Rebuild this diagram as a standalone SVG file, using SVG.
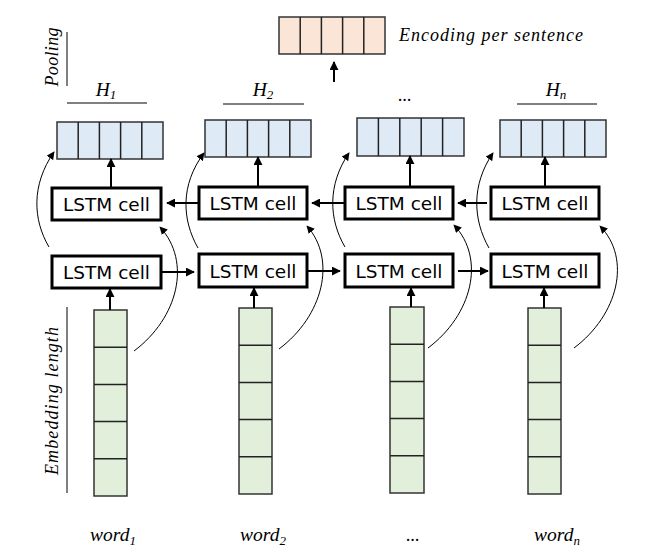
<svg xmlns="http://www.w3.org/2000/svg" width="651" height="559" viewBox="0 0 651 559">
<style>
.lbl{font-family:"Liberation Serif","Times New Roman",serif;font-style:italic;font-size:18px;fill:#000}
.big{font-size:19.5px}
.sub{font-size:13px}
.cell rect{fill:#fff;stroke:#000;stroke-width:3}
.cell text{font-family:"DejaVu Sans","Verdana",sans-serif;font-size:18.5px;fill:#000;text-anchor:middle}
.blue rect{fill:#deeaf6;stroke:#333;stroke-width:1.5}
.blue line,.green line,.orange line{stroke:#222;stroke-width:1.5}
.green rect{fill:#e2efda;stroke:#333;stroke-width:1.5}
.orange rect{fill:#fbe5d6;stroke:#333;stroke-width:1.5}
.arr{stroke:#000;stroke-width:2;fill:none;marker-end:url(#ah)}
.crv{stroke:#000;stroke-width:1;fill:none;marker-end:url(#ah2)}
.rule{stroke:#000;stroke-width:1}
</style>
<defs>
<marker id="ah" viewBox="0 0 10 10" refX="9" refY="5" markerWidth="4.5" markerHeight="4.5" orient="auto" markerUnits="strokeWidth">
<path d="M0,0 L10,5 L0,10 z" fill="#000"/>
</marker>
<marker id="ah2" viewBox="0 0 10 10" refX="9" refY="5" markerWidth="8" markerHeight="8" orient="auto" markerUnits="strokeWidth">
<path d="M0,0 L10,5 L0,10 z" fill="#000"/>
</marker>
</defs>

<!-- side labels -->
<g id="pooling-label">
<text class="lbl" transform="translate(58,57) rotate(-90)" text-anchor="middle" textLength="59" lengthAdjust="spacing">Pooling</text>
<line class="rule" x1="67" y1="32" x2="67" y2="86"/>
</g>
<g id="embedding-label">
<text class="lbl" transform="translate(58,401) rotate(-90)" text-anchor="middle" textLength="148" lengthAdjust="spacing">Embedding length</text>
<line class="rule" x1="67" y1="307" x2="67" y2="493"/>
</g>

<!-- pooled encoding -->
<g id="encoding" class="orange">
<rect x="279" y="17" width="106" height="37"/>
<line x1="300.2" y1="17" x2="300.2" y2="54"/>
<line x1="321.4" y1="17" x2="321.4" y2="54"/>
<line x1="342.6" y1="17" x2="342.6" y2="54"/>
<line x1="363.8" y1="17" x2="363.8" y2="54"/>
<text class="lbl" x="399" y="41" textLength="184" lengthAdjust="spacing">Encoding per sentence</text>
</g>

<!-- H labels -->
<g id="h-labels">
<text class="lbl big" x="106" y="96" text-anchor="middle">H<tspan class="sub" dy="3">1</tspan></text>
<line class="rule" x1="67" y1="103" x2="147" y2="103"/>
<text class="lbl big" x="263" y="96" text-anchor="middle">H<tspan class="sub" dy="3">2</tspan></text>
<line class="rule" x1="223" y1="104" x2="304" y2="104"/>
<text class="lbl" x="405" y="101" text-anchor="middle">...</text>
<text class="lbl big" x="556" y="96" text-anchor="middle">H<tspan class="sub" dy="3">n</tspan></text>
<line class="rule" x1="517" y1="104" x2="597" y2="104"/>
</g>

<!-- hidden state vectors -->
<g id="h1" class="blue">
<rect x="57" y="122" width="106" height="37"/>
<line x1="78.2" y1="122" x2="78.2" y2="159"/><line x1="99.4" y1="122" x2="99.4" y2="159"/><line x1="120.6" y1="122" x2="120.6" y2="159"/><line x1="141.8" y1="122" x2="141.8" y2="159"/>
</g>
<g id="h2" class="blue">
<rect x="205" y="120" width="106" height="37"/>
<line x1="226.2" y1="120" x2="226.2" y2="157"/><line x1="247.4" y1="120" x2="247.4" y2="157"/><line x1="268.6" y1="120" x2="268.6" y2="157"/><line x1="289.8" y1="120" x2="289.8" y2="157"/>
</g>
<g id="h3" class="blue">
<rect x="357" y="118" width="107" height="38"/>
<line x1="378.4" y1="118" x2="378.4" y2="156"/><line x1="399.8" y1="118" x2="399.8" y2="156"/><line x1="421.2" y1="118" x2="421.2" y2="156"/><line x1="442.6" y1="118" x2="442.6" y2="156"/>
</g>
<g id="hn" class="blue">
<rect x="500" y="120" width="106" height="37"/>
<line x1="521.2" y1="120" x2="521.2" y2="157"/><line x1="542.4" y1="120" x2="542.4" y2="157"/><line x1="563.6" y1="120" x2="563.6" y2="157"/><line x1="584.8" y1="120" x2="584.8" y2="157"/>
</g>

<!-- backward LSTM cells -->
<g id="bw1" class="cell"><rect x="52" y="188" width="109" height="32"/><text x="106.5" y="211">LSTM cell</text></g>
<g id="bw2" class="cell"><rect x="199" y="187" width="108" height="32"/><text x="253" y="210">LSTM cell</text></g>
<g id="bw3" class="cell"><rect x="345" y="187" width="108" height="32"/><text x="399" y="210">LSTM cell</text></g>
<g id="bw4" class="cell"><rect x="491" y="187" width="108" height="32"/><text x="545" y="210">LSTM cell</text></g>

<!-- forward LSTM cells -->
<g id="fw1" class="cell"><rect x="52" y="256" width="109" height="32"/><text x="106.5" y="279">LSTM cell</text></g>
<g id="fw2" class="cell"><rect x="199" y="254" width="108" height="33"/><text x="253" y="278">LSTM cell</text></g>
<g id="fw3" class="cell"><rect x="345" y="254" width="108" height="33"/><text x="399" y="278">LSTM cell</text></g>
<g id="fw4" class="cell"><rect x="491" y="254" width="108" height="33"/><text x="545" y="278">LSTM cell</text></g>

<!-- word embeddings -->
<g id="emb1" class="green">
<rect x="94" y="310" width="33" height="186"/>
<line x1="94" y1="347.2" x2="127" y2="347.2"/><line x1="94" y1="384.4" x2="127" y2="384.4"/><line x1="94" y1="421.6" x2="127" y2="421.6"/><line x1="94" y1="458.8" x2="127" y2="458.8"/>
</g>
<g id="emb2" class="green">
<rect x="239" y="308" width="33" height="186"/>
<line x1="239" y1="345.2" x2="272" y2="345.2"/><line x1="239" y1="382.4" x2="272" y2="382.4"/><line x1="239" y1="419.6" x2="272" y2="419.6"/><line x1="239" y1="456.8" x2="272" y2="456.8"/>
</g>
<g id="emb3" class="green">
<rect x="390" y="307" width="34" height="186"/>
<line x1="390" y1="344.2" x2="424" y2="344.2"/><line x1="390" y1="381.4" x2="424" y2="381.4"/><line x1="390" y1="418.6" x2="424" y2="418.6"/><line x1="390" y1="455.8" x2="424" y2="455.8"/>
</g>
<g id="embn" class="green">
<rect x="528" y="308" width="33" height="186"/>
<line x1="528" y1="345.2" x2="561" y2="345.2"/><line x1="528" y1="382.4" x2="561" y2="382.4"/><line x1="528" y1="419.6" x2="561" y2="419.6"/><line x1="528" y1="456.8" x2="561" y2="456.8"/>
</g>

<!-- word labels -->
<g id="words">
<text class="lbl big" x="113" y="541" text-anchor="middle">word<tspan class="sub" dy="4">1</tspan></text>
<text class="lbl big" x="263" y="541" text-anchor="middle">word<tspan class="sub" dy="4">2</tspan></text>
<text class="lbl" x="413" y="541" text-anchor="middle">...</text>
<text class="lbl big" x="557" y="541" text-anchor="middle">word<tspan class="sub" dy="4">n</tspan></text>
</g>

<!-- connectors -->
<g id="connectors">
<line class="arr" x1="334" y1="82" x2="334" y2="62"/>
<line class="arr" x1="111" y1="187" x2="111" y2="159"/>
<line class="arr" x1="258" y1="186" x2="258" y2="157"/>
<line class="arr" x1="410" y1="186" x2="410" y2="156"/>
<line class="arr" x1="545" y1="186" x2="545" y2="157"/>
<line class="arr" x1="110" y1="310" x2="110" y2="289"/>
<line class="arr" x1="254" y1="308" x2="254" y2="288"/>
<line class="arr" x1="411" y1="307" x2="411" y2="288"/>
<line class="arr" x1="544" y1="308" x2="544" y2="288"/>
<line class="arr" x1="162" y1="272" x2="194" y2="272"/>
<line class="arr" x1="308" y1="271" x2="340" y2="271"/>
<line class="arr" x1="458" y1="271" x2="488" y2="271"/>
<line class="arr" x1="198" y1="203" x2="167" y2="203"/>
<line class="arr" x1="344" y1="203" x2="312" y2="203"/>
<line class="arr" x1="487" y1="203" x2="458" y2="203"/>
<path class="crv" d="M49,247 C33,220 31,185 54,152"/>
<path class="crv" d="M198,248 C182,220 180,185 204,153"/>
<path class="crv" d="M345,247 C329,220 327,185 349,153"/>
<path class="crv" d="M489,248 C473,220 471,185 493,153"/>
<path class="crv" d="M134,351 C178,318 192,262 160,227"/>
<path class="crv" d="M279,349 C323,316 337,260 307,226"/>
<path class="crv" d="M428,348 C472,315 486,259 454,225"/>
<path class="crv" d="M574,348 C618,315 632,259 600,226"/>
</g>
</svg>
